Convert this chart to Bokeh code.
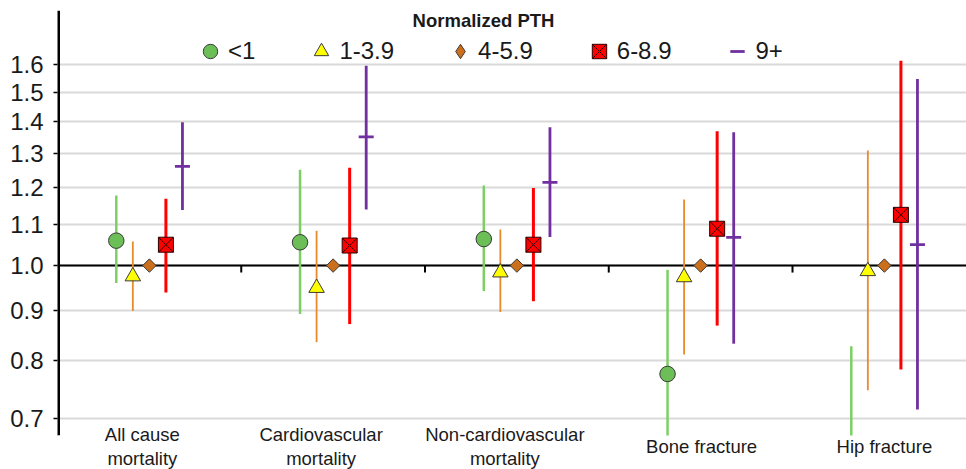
import numpy as np
from bokeh.plotting import figure
from bokeh.models import (Range1d, FixedTicker, PrintfTickFormatter, Span, Legend,
                          LegendItem, Label, ColumnDataSource, BoxAnnotation)
from bokeh.embed import file_html
from bokeh.resources import INLINE

# ---------------- data ----------------
categories = ["All cause\nmortality", "Cardiovascular\nmortality",
              "Non-cardiovascular\nmortality", "Bone fracture", "Hip fracture"]
series_names = ["<1", "1-3.9", "4-5.9", "6-8.9", "9+"]

est_lt1 = [1.060, 1.056, 1.064, 0.776, 0.58]
lo_lt1 = [0.960, 0.893, 0.942, 0.61, 0.41]
hi_lt1 = [1.178, 1.251, 1.206, 0.990, 0.828]

est_1to3 = [0.975, 0.949, 0.984, 0.973, 0.987]
lo_1to3 = [0.899, 0.836, 0.897, 0.812, 0.747]
hi_1to3 = [1.058, 1.085, 1.088, 1.167, 1.309]

est_4to5 = [1.0, 1.0, 1.0, 1.0, 1.0]   # reference group

est_6to8 = [1.050, 1.048, 1.050, 1.090, 1.126]
lo_6to8 = [0.939, 0.872, 0.920, 0.869, 0.784]
hi_6to8 = [1.169, 1.257, 1.199, 1.369, 1.615]

est_9p = [1.261, 1.351, 1.215, 1.068, 1.050]
lo_9p = [1.139, 1.140, 1.069, 0.833, 0.714]
hi_9p = [1.398, 1.596, 1.382, 1.366, 1.547]

yticks = [0.7, 0.8, 0.9, 1.0, 1.1, 1.2, 1.3, 1.4, 1.5, 1.6]

# ---------------- layout ----------------
FONT = "Liberation Sans"
W, H = 966, 469
BL, BT = 57, 10
plot_h = 425                 # height of the value area (axis length)
frame_w = W - BL
frame_h = H - BT             # frame runs to the bottom; labels live below the value area
axis_min, ymax = 0.672, 1.816
px_per_log = plot_h / np.log(ymax / axis_min)
ymin = ymax / np.exp(frame_h / px_per_log)
xmin = -0.5
xmax = xmin + frame_w / 183.75
label_dx = [-7, -12, -12, 1, 0]   # horizontal nudges of the category labels (px)

p = figure(width=W, height=H, output_backend="svg", toolbar_location=None,
           y_axis_type="log", x_range=Range1d(xmin, xmax), y_range=Range1d(ymin, ymax),
           x_axis_location=None, min_border_left=BL, min_border_right=0,
           min_border_top=BT, min_border_bottom=0)
p.outline_line_color = None
p.xgrid.visible = False
p.ygrid.ticker = FixedTicker(ticks=yticks)
p.ygrid.grid_line_color = "#d9d9d9"
p.ygrid.grid_line_width = 2

ax = p.yaxis[0]
ax.ticker = FixedTicker(ticks=yticks)
ax.formatter = PrintfTickFormatter(format="%.1f")
ax.axis_line_color = None
ax.major_tick_line_color = "black"
ax.major_tick_line_width = 1.5
ax.major_tick_out = 4
ax.major_tick_in = 0
ax.minor_tick_line_color = None
ax.major_label_standoff = 10
ax.major_label_text_font = FONT
ax.major_label_text_font_size = "24px"
ax.major_label_text_color = "#1a1a1a"

# horizontal reference line at 1.0
p.add_layout(Span(location=1.0, dimension="width", line_color="black", line_width=2,
                  level="underlay"))

# category-boundary tick marks hanging under the 1.0 line
ncat = len(categories)
xb = np.arange(ncat - 1) + 0.5
p.segment(x0=xb, y0=np.ones(len(xb)), x1=xb, y1=np.ones(len(xb)) * np.exp(-7 / px_per_log),
          line_color="black", line_width=2)

offsets = [-0.18, -0.09, 0.0, 0.09, 0.18]
xc = np.arange(ncat, dtype=float)


def src(est, lo=None, hi=None, k=0):
    d = dict(x=xc + offsets[k], est=est)
    if lo is not None:
        d["lo"] = lo
        d["hi"] = hi
    return ColumnDataSource(d)


s0 = src(est_lt1, lo_lt1, hi_lt1, 0)
s1 = src(est_1to3, lo_1to3, hi_1to3, 1)
s2 = src(est_4to5, k=2)
s3 = src(est_6to8, lo_6to8, hi_6to8, 3)
s4 = src(est_9p, lo_9p, hi_9p, 4)

# error bars
p.segment(x0="x", y0="lo", x1="x", y1="hi", source=s0, line_color="#7dcf64", line_width=2.5)
p.segment(x0="x", y0="lo", x1="x", y1="hi", source=s1, line_color="#e88a2c", line_width=1.8)
p.segment(x0="x", y0="lo", x1="x", y1="hi", source=s3, line_color="#ff0000", line_width=3)
p.segment(x0="x", y0="lo", x1="x", y1="hi", source=s4, line_color="#7030a0", line_width=2.8)

# markers
r0 = p.scatter(x="x", y="est", source=s0, marker="circle", size=15.5,
               fill_color="#6cbf57", line_color="#3a3a3a", line_width=1)
r1 = p.scatter(x="x", y="est", source=s1, marker="triangle", size=15.5,
               fill_color="#ffff00", line_color="#3a3a3a", line_width=1)
r2 = p.scatter(x="x", y="est", source=s2, marker="square", size=9.5, angle=np.pi / 4,
               fill_color="#cc6f1c", line_color="#3a3a3a", line_width=1)
r3 = p.scatter(x="x", y="est", source=s3, marker="square_x", size=15,
               fill_color="#ff0000", line_color="#2a0000", line_width=1)
r4 = p.scatter(x="x", y="est", source=s4, marker="dash", size=15,
               line_color="#7030a0", line_width=2.8)

# legend proxy for the diamond shape (not plotted: NaN position)
r2_leg = p.scatter(x=[np.nan], y=[np.nan], marker="diamond", fill_color="#cc6f1c",
                   line_color="#3a3a3a", line_width=1)

# mask everything below the value area (the category label band)
p.add_layout(BoxAnnotation(top=axis_min, fill_color="white", fill_alpha=1.0,
                           line_color=None, level="annotation"))

# y-axis line drawn over the value area only (half is clipped by the frame edge)
p.segment(x0=[xmin], y0=[axis_min], x1=[xmin], y1=[ymax], line_color="black", line_width=5)

legend = Legend(items=[LegendItem(label=series_names[0], renderers=[r0]),
                       LegendItem(label=series_names[1], renderers=[r1]),
                       LegendItem(label=series_names[2], renderers=[r2_leg]),
                       LegendItem(label=series_names[3], renderers=[r3]),
                       LegendItem(label=series_names[4], renderers=[r4])],
                orientation="horizontal", location=(135, frame_h - 59),
                glyph_width=36, glyph_height=36, label_standoff=0, spacing=48,
                padding=0, margin=0, border_line_color=None, background_fill_alpha=0,
                label_text_font=FONT, label_text_font_size="24px", label_text_color="#1a1a1a")
p.add_layout(legend)

p.add_layout(Label(x=426, y=frame_h - 10, x_units="screen", y_units="screen",
                   text="Normalized PTH", text_align="center", text_baseline="middle",
                   text_font=FONT, text_font_style="bold", text_font_size="18.5px",
                   text_color="#1a1a1a"))

for i, c in enumerate(categories):
    p.add_layout(Label(x=i, y=23, x_units="data", y_units="screen", x_offset=label_dx[i],
                       text=c, text_align="center", text_baseline="middle", text_font=FONT,
                       text_font_size="18.5px", text_color="#1a1a1a", text_line_height=1.135))

open("out.html", "w").write(file_html(p, INLINE))
